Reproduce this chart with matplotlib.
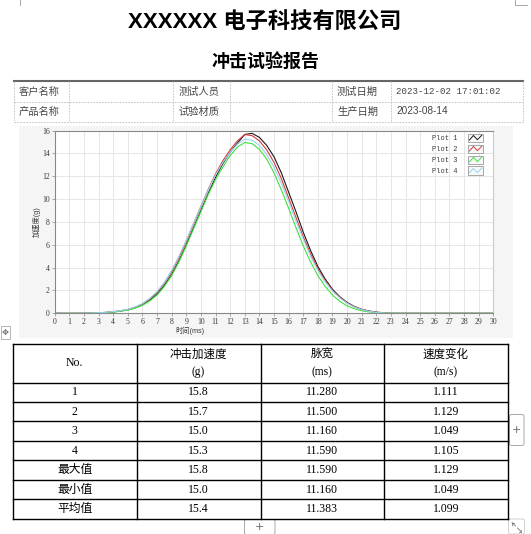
import matplotlib
matplotlib.use("Agg")
import matplotlib.pyplot as plt
from matplotlib.patches import Rectangle, FancyBboxPatch
from matplotlib.lines import Line2D
from matplotlib.legend_handler import HandlerBase
from matplotlib.font_manager import FontProperties

plt.rcParams['font.family'] = ['Liberation Sans', 'Noto Sans CJK SC']

# === DATI ===
t_ms = [0.0, 2.0, 2.5, 3.0, 3.5, 4.0, 4.5, 5.0, 5.5, 6.0, 6.5, 7.0, 7.5, 8.0, 8.5,
        9.0, 9.5, 10.0, 10.5, 11.0, 11.5, 12.0, 12.5, 13.0, 13.5, 14.0, 14.5, 15.0,
        15.5, 16.0, 16.5, 17.0, 17.5, 18.0, 18.5, 19.0, 19.5, 20.0, 20.5, 21.0, 21.5,
        22.0, 22.5, 23.0, 23.5, 30.0]
plot1 = [0, 0.0, 0.02, 0.04, 0.07, 0.12, 0.2, 0.3, 0.48, 0.75, 1.15, 1.7, 2.45, 3.4, 4.6,
         6.0, 7.5, 9.0, 10.5, 11.9, 13.1, 14.1, 14.9, 15.65, 15.75, 15.4, 14.7, 13.7,
         12.3, 10.6, 8.9, 7.1, 5.5, 4.1, 3.0, 2.1, 1.45, 0.95, 0.6, 0.35, 0.2,
         0.1, 0.05, 0.0, 0.0, 0]
plot2 = [0, 0.0, 0.03, 0.05, 0.08, 0.14, 0.22, 0.34, 0.53, 0.82, 1.25, 1.85, 2.65, 3.65, 4.9,
         6.3, 7.85, 9.35, 10.85, 12.2, 13.35, 14.3, 15.1, 15.65, 15.55, 15.1, 14.3, 13.2,
         11.8, 10.1, 8.4, 6.7, 5.2, 3.9, 2.85, 2.0, 1.4, 0.9, 0.57, 0.33, 0.18,
         0.09, 0.04, 0.0, 0.0, 0]
plot3 = [0, 0.0, 0.02, 0.04, 0.07, 0.11, 0.18, 0.28, 0.45, 0.7, 1.08, 1.6, 2.35, 3.3, 4.5,
         5.9, 7.4, 8.9, 10.4, 11.7, 12.8, 13.8, 14.55, 14.95, 14.85, 14.35, 13.5, 12.3,
         10.8, 9.2, 7.5, 5.9, 4.5, 3.3, 2.35, 1.6, 1.05, 0.65, 0.4, 0.22, 0.12,
         0.06, 0.03, 0.01, 0.0, 0]
plot4 = [0, 0.0, 0.03, 0.05, 0.09, 0.15, 0.23, 0.35, 0.55, 0.85, 1.3, 1.9, 2.7, 3.75, 5.0,
         6.4, 7.9, 9.4, 10.8, 12.1, 13.2, 14.1, 14.8, 15.25, 15.15, 14.7, 13.9, 12.8,
         11.4, 9.8, 8.1, 6.5, 5.0, 3.75, 2.75, 1.95, 1.35, 0.88, 0.55, 0.32, 0.17,
         0.08, 0.03, 0.0, 0.0, 0]

serie = [("Plot 1", plot1, "#1a1a1a"), ("Plot 2", plot2, "#d83a3a"),
         ("Plot 3", plot3, "#3fe03f"), ("Plot 4", plot4, "#9cd4f0")]

numeri = ["1", "2", "3", "4", "最大值", "最小值", "平均值"]
accelerazione = [15.8, 15.7, 15.0, 15.3, 15.8, 15.0, 15.4]
larghezza = [11.280, 11.500, 11.160, 11.590, 11.590, 11.160, 11.383]
delta_v = [1.111, 1.129, 1.049, 1.105, 1.129, 1.049, 1.099]

# === FIGURA (coordinate in pixel) ===
fig = plt.figure(figsize=(5.31, 5.34), dpi=100)
bg = fig.add_axes([0, 0, 1, 1])
bg.set_xlim(0, 531)
bg.set_ylim(534, 0)
bg.axis("off")

bg.text(265, 23.5, "XXXXXX 电子科技有限公司", ha="center", va="center",
        fontsize=16, fontweight="bold")
bg.text(266, 62, "冲击试验报告", ha="center", va="center", fontsize=13,
        fontweight="bold", family=["Noto Sans CJK SC"])

# tabella informazioni
bg.plot([13.5, 523], [81, 81], color="#666666", lw=1.5)
for y in (101.5, 121.5):
    bg.plot([13.5, 523], [y, y], color="#bbbbbb", lw=0.6, ls=(0, (2, 1.5)))
for x in (13.5, 69.4, 172.7, 230.3, 331.9, 391, 523):
    bg.plot([x, x], [81, 121.5], color="#bbbbbb", lw=0.6, ls=(0, (2, 1.5)))
info = [(18.5, 91.5, "客户名称"), (178.5, 91.5, "测试人员"), (337, 91.5, "测试日期"),
        (18.5, 111.5, "产品名称"), (178.5, 111.5, "试验材质"), (337, 111.5, "生产日期")]
for x, y, s in info:
    bg.text(x, y, s, ha="left", va="center", fontsize=7.4, color="#444444")
bg.text(396, 91.5, "2023-12-02 17:01:02", ha="left", va="center", fontsize=6.6,
        color="#444444", family="Liberation Mono")
bg.text(396, 111.5, "2023-08-14", ha="left", va="center", fontsize=7.2, color="#444444")

# pannello grafico
bg.add_patch(Rectangle((18.6, 126), 494.4, 211.5, facecolor="#f5f5f5", edgecolor="none"))

# === GRAFICO ===
ax = fig.add_axes([54.7 / 531, 1 - 313.3 / 534, 438.6 / 531, 182.8 / 534])
ax.set_facecolor("white")
linee = []
for nome, valori, colore in serie:
    l, = ax.plot(t_ms, valori, color=colore, lw=0.8, label=nome)
    linee.append(l)
ax.set_xlim(0, 30)
ax.set_ylim(0, 16)
ax.set_xticks(range(0, 31))
ax.set_yticks(range(0, 17, 2))
ax.grid(True, color="#e2e2e2", lw=0.6)
ax.set_axisbelow(True)
for lato in ("left", "bottom", "top"):
    ax.spines[lato].set_color("#888888")
    ax.spines[lato].set_linewidth(0.8)
ax.spines["right"].set_color("#cccccc")
ax.tick_params(length=2, width=0.5, color="#888888", labelsize=5.6,
               labelcolor="#3a3a3a", pad=1.5)
for lab in ax.get_xticklabels() + ax.get_yticklabels():
    lab.set_family("Liberation Serif")
fig.text(190 / 531, 1 - 331 / 534, "时间(ms)", ha="center", va="center",
         fontsize=5.2, color="#3a3a3a")
fig.text(37 / 531, 1 - 222 / 534, "加速度(g)", ha="center", va="center",
         fontsize=5.2, color="#3a3a3a", rotation=90)


class ZigzagHandler(HandlerBase):
    def create_artists(self, legend, orig_handle, xdescent, ydescent,
                       width, height, fontsize, trans):
        x0, y0 = -xdescent, -ydescent
        box = Rectangle((x0, y0), width, height, facecolor="#f8f8f8",
                        edgecolor="#9a9a9a", linewidth=0.6, transform=trans)
        zx = [x0 + width * f for f in (0.1, 0.36, 0.62, 0.9)]
        zy = [y0 + height * f for f in (0.25, 0.78, 0.28, 0.8)]
        zig = Line2D(zx, zy, color=orig_handle.get_color(), linewidth=0.7,
                     transform=trans)
        return [box, zig]


leg = ax.legend(handles=linee, handler_map={Line2D: ZigzagHandler()},
                loc="upper right", bbox_to_anchor=(0.977, 0.983), frameon=False,
                markerfirst=False, handlelength=2.2, handleheight=1.5,
                labelspacing=0.35, handletextpad=1.5, borderpad=0, borderaxespad=0,
                prop=FontProperties(family="Liberation Mono", size=5.0))
for txt in leg.get_texts():
    txt.set_color("#3a3a3a")

# === TABELLA RISULTATI ===
righe_y = [343.5, 382.5, 401.8, 421.4, 441, 460.4, 480, 499.3, 518.6]
colonne_x = [13, 136.5, 260.7, 383.7, 508]
for y in righe_y:
    bg.plot([colonne_x[0], colonne_x[-1]], [y, y], color="black", lw=1.0)
for x in colonne_x:
    bg.plot([x, x], [righe_y[0], righe_y[-1]], color="black", lw=1.0)

font_tab = ["Liberation Serif", "Noto Sans CJK SC"]
centri = [(colonne_x[i] + colonne_x[i + 1]) / 2 for i in range(4)]
bg.text(centri[0], 363, "No.", ha="center", va="center", fontsize=8.5, family=font_tab)
intestazioni = [("冲击加速度", "(g)"), ("脉宽", "(ms)"), ("速度变化", "(m/s)")]
for cx, (a, b) in zip(centri[1:], intestazioni):
    bg.text(cx, 354.5, a, ha="center", va="center", fontsize=8.3, family=font_tab)
    bg.text(cx, 372.5, b, ha="center", va="center", fontsize=8.3, family=font_tab)
for i in range(len(numeri)):
    yc = (righe_y[i + 1] + righe_y[i + 2]) / 2
    riga = [numeri[i], f"{accelerazione[i]:.1f}", f"{larghezza[i]:.3f}", f"{delta_v[i]:.3f}"]
    for cx, s in zip(centri, riga):
        bg.text(cx, yc, s, ha="center", va="center", fontsize=8.5, family=font_tab)

# elementi dell'editor
for (x, y, w, h) in [(509.5, 414.5, 14.5, 31), (244.5, 519.5, 30.5, 15)]:
    bg.add_patch(FancyBboxPatch((x, y), w, h, boxstyle="round,pad=0,rounding_size=2",
                                facecolor="white", edgecolor="#aaaaaa", lw=0.7))
    bg.text(x + w / 2, y + h / 2, "+", ha="center", va="center", fontsize=8,
            color="#666666", family="DejaVu Sans")
bg.add_patch(FancyBboxPatch((508.5, 519), 16, 15, boxstyle="round,pad=0,rounding_size=2",
                            facecolor="white", edgecolor="#cccccc", lw=0.6))
# icona di ridimensionamento (disegnata a mano)
bg.plot([512, 515.5], [522.5, 526], color="#777777", lw=0.6)
bg.plot([517.5, 521], [528, 531.5], color="#777777", lw=0.6)
bg.plot([512, 512, 514], [524.5, 522.5, 522.5], color="#777777", lw=0.6)
bg.plot([519, 521, 521], [531.5, 531.5, 529.5], color="#777777", lw=0.6)
bg.add_patch(Rectangle((0.5, 326), 9.5, 13, facecolor="white", edgecolor="#aaaaaa", lw=0.6))
bg.text(5.2, 332.5, "✥", ha="center", va="center", fontsize=6, color="#666666",
        family="DejaVu Sans")
bg.plot([19.5, 19.5], [0, 5], color="#999999", lw=0.6)
bg.plot([515, 515, 527], [0, 5, 5], color="#999999", lw=0.6)

fig.savefig("out.png", dpi=100)
plt.close()
